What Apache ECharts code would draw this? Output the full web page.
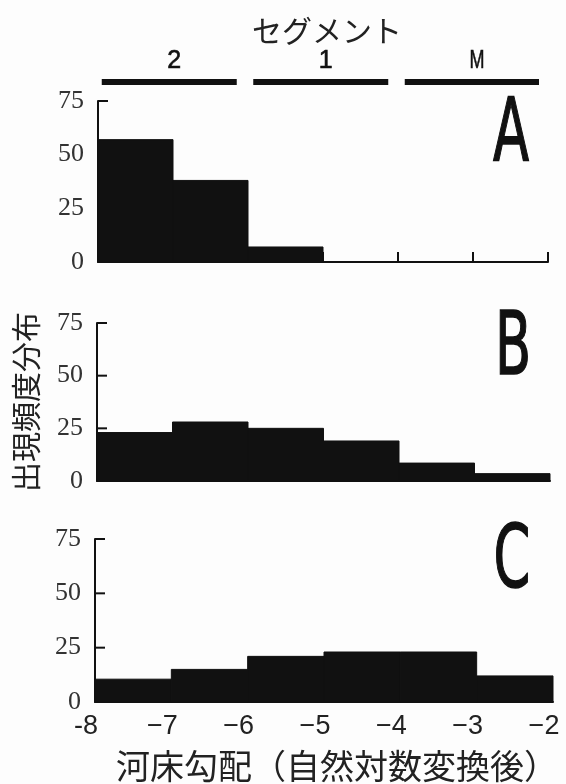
<!DOCTYPE html>
<html>
<head>
<meta charset="utf-8">
<script src="https://cdn.jsdelivr.net/npm/echarts@6/dist/echarts.min.js"></script>
<style>html,body{margin:0;padding:0;background:#fdfdfd;}#c{width:566px;height:784px;}</style>
</head>
<body>
<div id="c"></div>
<script>
// Data
const binStarts = [-8, -7, -6, -5, -4, -3];
const binEnds   = [-7, -6, -5, -4, -3, -2];
const countsA = [57, 38, 7, 0, 0, 0];
const countsB = [23, 28, 25, 19, 8.5, 3.5];
const countsC = [10.5, 15, 21, 23, 23, 12];
const xTickLabels = {'-8':'-8','-7':'−7','-6':'−6','-5':'−5','-4':'−4','-3':'−3','-2':'−2'};
const yTicks = [0, 25, 50, 75];
const segStarts = [-7.95, -5.93, -3.91];
const segEnds   = [-6.15, -4.13, -2.12];
const segLabels = ['2', '1', 'M'];
const panelLetters = ['A', 'B', 'C'];

const ink = '#111';
const txt = '#222';

function histData(counts){
  return counts.map((v,i)=>[binStarts[i], binEnds[i], v]);
}
function renderHist(params, api){
  const p0 = api.coord([api.value(0), api.value(2)]);
  const p1 = api.coord([api.value(1), 0]);
  return {type:'rect', shape:{x:p0[0], y:p0[1], width:p1[0]-p0[0], height:p1[1]-p0[1]},
    style:{fill:ink, stroke: api.value(2) > 0 ? ink : null, lineWidth:1}};
}
function renderYTick(params, api){
  const p = api.coord([-8, api.value(0)]);
  return {type:'line', shape:{x1:p[0], y1:p[1], x2:p[0]+10, y2:p[1]}, style:{stroke:ink, lineWidth:2}};
}

const grids = [
  {left:98, top:101, width:450, height:161},
  {left:97, top:323, width:453, height:158},
  {left:95, top:539, width:458, height:165},
  {left:98, top:50, width:450, height:32}
];

const serif = '"Liberation Serif", "Times New Roman", serif';
const sans = '"Liberation Sans", Arial, sans-serif';
const cjk = '"Noto Sans CJK JP", sans-serif';

function yAxisDef(i, extra){
  return Object.assign({
    type:'value', gridIndex:i, min:0, max:75, interval:25,
    axisLine:{show:true, lineStyle:{color:ink, width:2}},
    axisTick:{show:false},
    splitLine:{show:false},
    axisLabel:{margin:14, color:'#333', fontFamily:serif, fontSize:26,
      formatter:v=> yTicks.indexOf(v)>=0 ? String(v) : ''}
  }, extra||{});
}
function xAxisDef(i, showLabels, showTicks, extra){
  return Object.assign({
    type:'value', gridIndex:i, min:-8, max:-2, interval:1,
    axisLine:{show:true, onZero:false, lineStyle:{color:ink, width:2}},
    axisTick:{show:showTicks, inside:true, length:10, lineStyle:{color:ink, width:2}},
    splitLine:{show:false},
    axisLabel:{show:showLabels, margin:11, padding:[0,18,0,0], color:txt, fontFamily:sans, fontSize:27,
      formatter:v=> xTickLabels[String(v)] || ''}
  }, extra||{});
}

function letter(i, x, y){
  return {type:'text', x:x, y:y, scaleX:0.6,
    style:{text:panelLetters[i], x:0, y:0, align:'center', verticalAlign:'middle', fill:ink,
      stroke:ink, lineWidth:1.5, font:'88px "DejaVu Sans"'}};
}

const option = {
  backgroundColor:'#fdfdfd',
  animation:false,
  grid: grids,
  xAxis: [
    xAxisDef(0, false, true),
    xAxisDef(1, false, false),
    xAxisDef(2, true, false, {
      name:'河床勾配（自然対数変換後）', nameLocation:'middle', nameGap:47,
      nameTextStyle:{color:txt, fontFamily:cjk, fontSize:34, padding:[0,0,0,26]}
    }),
    {type:'value', gridIndex:3, min:-8, max:-2, show:false}
  ],
  yAxis: [
    yAxisDef(0),
    yAxisDef(1, {name:'出現頻度分布', nameLocation:'middle', nameGap:56, nameRotate:90,
      nameTextStyle:{color:txt, fontFamily:cjk, fontSize:30}}),
    yAxisDef(2),
    {type:'value', gridIndex:3, min:0, max:1, show:false}
  ],
  series: [
    {type:'custom', xAxisIndex:0, yAxisIndex:0, z:1, data:yTicks.filter(v=>v>0).map(v=>[v]), renderItem:renderYTick, encode:{y:0}},
    {type:'custom', xAxisIndex:1, yAxisIndex:1, z:1, data:yTicks.filter(v=>v>0).map(v=>[v]), renderItem:renderYTick, encode:{y:0}},
    {type:'custom', xAxisIndex:2, yAxisIndex:2, z:1, data:yTicks.filter(v=>v>0).map(v=>[v]), renderItem:renderYTick, encode:{y:0}},
    {type:'custom', xAxisIndex:0, yAxisIndex:0, z:3, data:histData(countsA), renderItem:renderHist, encode:{x:[0,1], y:2}},
    {type:'custom', xAxisIndex:1, yAxisIndex:1, z:3, data:histData(countsB), renderItem:renderHist, encode:{x:[0,1], y:2}},
    {type:'custom', xAxisIndex:2, yAxisIndex:2, z:3, data:histData(countsC), renderItem:renderHist, encode:{x:[0,1], y:2}},
    {type:'custom', xAxisIndex:3, yAxisIndex:3, clip:false,
      data: segStarts.map((s,i)=>[s, segEnds[i], segLabels[i]]),
      encode:{x:[0,1]},
      renderItem:function(params, api){
        const a = api.coord([api.value(0), 0]);
        const b = api.coord([api.value(1), 0]);
        const lab = segLabels[params.dataIndex];
        return {type:'group', children:[
          {type:'rect', shape:{x:a[0], y:a[1]-3, width:b[0]-a[0], height:6}, style:{fill:ink}},
          {type:'text', x:(a[0]+b[0])/2 + 5, y:a[1]-21, scaleX: lab==='M'?0.72:1,
            style:{text:lab, x:0, y:0, align:'center', verticalAlign:'middle', fill:ink,
              stroke:ink, lineWidth:0.6, font:'25px "Liberation Sans"'}}
        ]};
      }
    }
  ],
  graphic: [
    {type:'text', x:327, y:31, style:{text:'セグメント', x:0, y:0, align:'center', verticalAlign:'middle', fill:txt, font:'30px "Noto Sans CJK JP"'}},
    letter(0, 511, 137),
    letter(1, 513, 351),
    letter(2, 512, 564)
  ]
};
const chart = echarts.init(document.getElementById('c'));
chart.setOption(option);
chart.setOption(option, true);
setTimeout(()=>{ chart.setOption(option, true); }, 50);
</script>
</body>
</html>
